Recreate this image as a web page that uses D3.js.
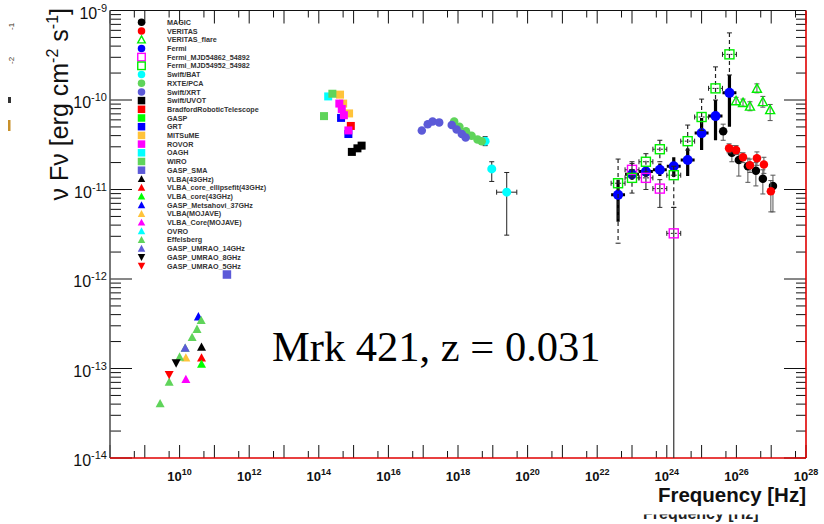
<!DOCTYPE html>
<html>
<head>
<meta charset="utf-8">
<script src="https://cdn.jsdelivr.net/npm/d3@7"></script>
<style>
  body { margin: 0; background: #fff; }
  svg { display: block; }
</style>
</head>
<body>
<svg id="chart" width="824" height="524"></svg>
<script>
// ---- Axis labels (exponents of ten) ----
const xLabelExponents = [10, 12, 14, 16, 18, 20, 22, 24, 26, 28];
const yLabelExponents = [-9, -10, -11, -12, -13, -14];

// ---- Legend entries ----
const legendNames = ["MAGIC", "VERITAS", "VERITAS_flare", "Fermi", "Fermi_MJD54862_54892",
  "Fermi_MJD54952_54982", "Swift/BAT", "RXTE/PCA", "Swift/XRT", "Swift/UVOT",
  "BradfordRoboticTelescope", "GASP", "GRT", "MITSuME", "ROVOR", "OAGH", "WIRO", "GASP_SMA",
  "VLBA(43GHz)", "VLBA_core_ellipsefit(43GHz)", "VLBA_core(43GHz)", "GASP_Metsahovi_37GHz",
  "VLBA(MOJAVE)", "VLBA_Core(MOJAVE)", "OVRO", "Effelsberg", "GASP_UMRAO_14GHz",
  "GASP_UMRAO_8GHz", "GASP_UMRAO_5GHz"];
const legendShapes = ["circle", "circle", "otri", "circle", "osquare", "osquare", "circle", "circle",
  "circle", "square", "square", "square", "square", "square", "square", "square", "square", "square",
  "tri", "tri", "tri", "tri", "tri", "tri", "tri", "tri", "tri", "tridown", "tridown"];
const legendColors = ["#000000", "#ff0000", "#00ee00", "#0000ff", "#ff00ff", "#00ee00", "#00ffff",
  "#5fd45a", "#5c5ad8", "#000000", "#ff0000", "#00ff00", "#0000ff", "#ffc33a", "#ff00ff", "#00ffff",
  "#5fd45a", "#5c5ad8", "#000000", "#ff0000", "#00ff00", "#0000ff", "#ffc33a", "#ff00ff", "#00ffff",
  "#5fd45a", "#5c5ad8", "#000000", "#ff0000"];

// ---- Data: log10(frequency / Hz) and log10(nuFnu / erg cm^-2 s^-1) ----
// Gamma rays
const magicNu   = [25.62, 25.87, 26.07, 26.33, 26.56, 26.76, 27.05];
const magicFlux = [-10.35, -10.59, -10.67, -10.74, -10.79, -10.88, -10.96];
const magicHi   = [0.08, 0.08, 0.08, 0.09, 0.09, 0.10, 0.12];
const magicLo   = [0.10, 0.10, 0.18, 0.18, 0.17, 0.17, 0.29];

const veritasNu   = [25.79, 25.99, 26.19, 26.39, 26.59, 26.79, 26.99];
const veritasFlux = [-10.54, -10.56, -10.64, -10.73, -10.65, -10.72, -11.02];
const veritasHi   = [0.05, 0.05, 0.05, 0.07, 0.07, 0.08, 0.12];
const veritasLo   = [0.05, 0.05, 0.06, 0.08, 0.08, 0.10, 0.23];

const flareNu   = [25.99, 26.19, 26.39, 26.59, 26.76, 26.97];
const flareFlux = [-10.01, -10.03, -10.07, -9.87, -10.02, -10.11];
const flareHi   = [0.04, 0.04, 0.05, 0.05, 0.06, 0.06];
const flareLo   = [0.04, 0.04, 0.05, 0.05, 0.06, 0.12];

const fermiNu   = [22.6, 23.0, 23.4, 23.8, 24.2, 24.6, 25.0, 25.4, 25.8];
const fermiFlux = [-11.06, -10.83, -10.80, -10.78, -10.74, -10.67, -10.37, -10.18, -9.92];
const fermiHi   = [0.17, 0.06, 0.06, 0.07, 0.10, 0.13, 0.17, 0.18, 0.20];
const fermiLo   = [0.30, 0.06, 0.06, 0.07, 0.12, 0.18, 0.19, 0.27, 0.38];

const fermiANu   = [23.0, 23.4, 23.8, 24.2];
const fermiAFlux = [-10.78, -10.87, -10.99, -11.49];
const fermiAHi   = [0.07, 0.07, 0.10, 0.29];
const fermiALo   = [0.07, 0.13, 0.21, 4.0];

const fermiBNu   = [22.6, 23.0, 23.4, 23.8, 24.2, 24.6, 25.0, 25.4, 25.8];
const fermiBFlux = [-10.93, -10.87, -10.69, -10.55, -10.84, -10.46, -10.19, -9.87, -9.49];
const fermiBHi   = [0.27, 0.18, 0.09, 0.10, 0.10, 0.18, 0.20, 0.24, 0.24];
const fermiBLo   = [0.67, 0.17, 0.15, 0.14, 0.36, 0.10, 0.15, 0.13, 0.23];

// X-rays
const batNu   = [18.78, 18.97, 19.40];
const batFlux = [-10.46, -10.77, -11.03];
const batHi   = [0.05, 0.08, 0.22];
const batLo   = [0.05, 0.14, 0.48];
const batNuErr = [0.0, 0.0, 0.29];

const rxteNu   = [17.89, 18.04, 18.23, 18.39, 18.56, 18.68];
const rxteFlux = [-10.24, -10.30, -10.35, -10.40, -10.44, -10.46];

const xrtNu   = [16.96, 17.13, 17.27, 17.46, 17.82, 17.96, 18.11, 18.22];
const xrtFlux = [-10.34, -10.27, -10.24, -10.25, -10.28, -10.33, -10.38, -10.42];

// Optical / UV
const uvotNu   = [14.95, 15.11, 15.23];
const uvotFlux = [-10.58, -10.54, -10.51];
const bradfordNu   = [14.92];
const bradfordFlux = [-10.29];
const grtNu   = [14.64, 14.85];
const grtFlux = [-10.20, -10.38];
const mitsumeNu   = [14.61, 14.70, 14.87];
const mitsumeFlux = [-9.94, -10.04, -10.15];
const rovorNu   = [14.59, 14.66, 14.72, 14.85];
const rovorFlux = [-10.04, -10.10, -10.17, -10.34];
const oaghNu   = [14.27];
const oaghFlux = [-9.96];
const wiroNu   = [14.15, 14.39];
const wiroFlux = [-10.18, -9.93];

// Radio
const smaNu = [11.36];            const smaFlux = [-11.95];
const vlbaNu = [10.63];           const vlbaFlux = [-12.76];
const vlbaEllNu = [10.63];        const vlbaEllFlux = [-12.88];
const vlbaCoreNu = [10.63];       const vlbaCoreFlux = [-12.95];
const metsahoviNu = [10.54];      const metsahoviFlux = [-12.42];
const mojaveNu = [10.18];         const mojaveFlux = [-12.88];
const mojaveCoreNu = [10.18];     const mojaveCoreFlux = [-13.12];
const effelsbergNu   = [9.44, 9.70, 10.0, 10.16, 10.36, 10.50, 10.62];
const effelsbergFlux = [-13.39, -13.15, -12.87, -12.77, -12.65, -12.56, -12.46];
const umrao14Nu = [10.16];        const umrao14Flux = [-12.77];
const umrao8Nu = [9.90];          const umrao8Flux = [-12.94];
const umrao5Nu = [9.70];          const umrao5Flux = [-13.07];

// ---- Scales ----
const P = v => Math.pow(10, v);
const x = d3.scaleLog().domain([1e8, 1e28]).range([110, 806]);
const y = d3.scaleLog().domain([1e-14, 1e-9]).range([458, 10.5]);
const X0 = 110, X1 = 806, Y0 = 458, Y1 = 10.5;

const svg = d3.select("#chart");
const SANS = "'Liberation Sans', Arial, Helvetica, sans-serif";

// ---- Marker drawing ----
function marker(g, shape, cx, cy, size, color) {
  const h = size / 2;
  if (shape === "circle") {
    g.append("circle").attr("cx", cx).attr("cy", cy).attr("r", h).attr("fill", color);
  } else if (shape === "square") {
    g.append("rect").attr("x", cx - h).attr("y", cy - h).attr("width", size).attr("height", size).attr("fill", color);
  } else if (shape === "osquare") {
    g.append("rect").attr("x", cx - h).attr("y", cy - h).attr("width", size).attr("height", size)
      .attr("fill", "none").attr("stroke", color).attr("stroke-width", 1.4);
  } else if (shape === "tri" || shape === "otri") {
    const p = `M${cx},${cy - h}L${cx + h},${cy + h * 0.85}L${cx - h},${cy + h * 0.85}Z`;
    const el = g.append("path").attr("d", p);
    if (shape === "tri") el.attr("fill", color);
    else el.attr("fill", "none").attr("stroke", color).attr("stroke-width", 1.4);
  } else if (shape === "tridown") {
    const p = `M${cx},${cy + h}L${cx + h},${cy - h * 0.85}L${cx - h},${cy - h * 0.85}Z`;
    g.append("path").attr("d", p).attr("fill", color);
  }
}

// ---- Frame, ticks, labels ----
const axes = svg.append("g");
const xDecades = d3.range(8, 29);
const xFives = d3.range(8, 28).map(d => 5 * P(d));
const yDecades = d3.range(-14, -8);
const yMinors = [];
d3.range(-14, -9).forEach(d => { for (let k = 2; k <= 9; k++) yMinors.push(k * P(d)); });

function vTicks(vals, len, yBase, dir) {
  axes.selectAll(null).data(vals).join("line")
    .attr("x1", d => x(d)).attr("x2", d => x(d))
    .attr("y1", yBase).attr("y2", yBase + dir * len)
    .attr("stroke", "#111").attr("stroke-width", 1);
}
function hTicks(vals, len, xBase, dir) {
  axes.selectAll(null).data(vals).join("line")
    .attr("y1", d => y(d)).attr("y2", d => y(d))
    .attr("x1", xBase).attr("x2", xBase + dir * len)
    .attr("stroke", "#111").attr("stroke-width", 1);
}
vTicks(xDecades.map(P), 13, Y0, -1);
vTicks(xFives, 7, Y0, -1);
vTicks(xDecades.map(P), 13, Y1, 1);
vTicks(xFives, 7, Y1, 1);
hTicks(yDecades.map(P), 22, X0, 1);
hTicks(yMinors, 11, X0, 1);
hTicks(yDecades.map(P), 22, X1, -1);
hTicks(yMinors, 10, X1, -1);

axes.append("line").attr("x1", X0).attr("x2", X1).attr("y1", Y1).attr("y2", Y1).attr("stroke", "#111").attr("stroke-width", 1);
axes.append("line").attr("x1", X0).attr("x2", X0).attr("y1", Y1).attr("y2", Y0).attr("stroke", "#555").attr("stroke-width", 1.6);
axes.append("line").attr("x1", X0).attr("x2", X1).attr("y1", Y0).attr("y2", Y0).attr("stroke", "#e00000").attr("stroke-width", 1.6);
axes.append("line").attr("x1", X1).attr("x2", X1).attr("y1", Y1).attr("y2", Y0).attr("stroke", "#e00000").attr("stroke-width", 1.6);

// x tick labels
const xl = axes.selectAll(null).data(xLabelExponents).join("text")
  .attr("x", d => x(P(d))).attr("y", 480.5)
  .attr("text-anchor", "middle").attr("font-family", SANS).attr("font-weight", "bold")
  .attr("font-size", 13).attr("fill", "#111");
xl.append("tspan").text("10");
xl.append("tspan").attr("dy", -6).attr("font-size", 9).text(d => d);

// y tick labels
const yl = axes.selectAll(null).data(yLabelExponents).join("text")
  .attr("x", 107).attr("y", d => y(P(d)) + 8)
  .attr("text-anchor", "end").attr("font-family", SANS)
  .attr("font-size", 16).attr("fill", "#111");
yl.append("tspan").text("10");
yl.append("tspan").attr("dy", -7).attr("font-size", 11).text(d => "-" + Math.abs(d));

// axis titles
axes.append("text").attr("x", 806).attr("y", 502).attr("text-anchor", "end")
  .attr("font-family", SANS).attr("font-weight", "bold").attr("font-size", 20.5).attr("fill", "#111")
  .text("Frequency [Hz]");

const yt = axes.append("text").attr("transform", "translate(68,8) rotate(-90)")
  .attr("text-anchor", "end").attr("font-family", SANS).attr("font-size", 25).attr("fill", "#111");
yt.append("tspan").text("\u03bd F\u03bd [erg cm");
yt.append("tspan").attr("dy", -10).attr("font-size", 16).text("-2");
yt.append("tspan").attr("dy", 10).text(" s");
yt.append("tspan").attr("dy", -10).attr("font-size", 16).text("-1");
yt.append("tspan").attr("dy", 10).text("]");

// fragments of a second set of titles, mostly cut off by the page edges
const ghost = svg.append("g");
ghost.append("text").attr("transform", "translate(14,64) rotate(-90)")
  .attr("font-family", SANS).attr("font-size", 8).attr("fill", "#3a3020").text("-2");
ghost.append("text").attr("transform", "translate(14,30) rotate(-90)")
  .attr("font-family", SANS).attr("font-size", 8).attr("fill", "#3a3020").text("-1");
ghost.append("rect").attr("x", 8).attr("y", 97).attr("width", 3).attr("height", 6).attr("fill", "#333");
ghost.append("rect").attr("x", 8).attr("y", 120).attr("width", 2.5).attr("height", 11).attr("fill", "#c8902a");
svg.append("clipPath").attr("id", "ghostclip").append("rect")
  .attr("x", 600).attr("y", 514.5).attr("width", 224).attr("height", 10);
svg.append("text").attr("clip-path", "url(#ghostclip)")
  .attr("x", 643).attr("y", 518.5).attr("font-family", SANS).attr("font-weight", "bold")
  .attr("font-size", 16).attr("fill", "#222").text("Frequency [Hz]");

// ---- Data layer ----
svg.append("clipPath").attr("id", "plotclip").append("rect")
  .attr("x", X0).attr("y", Y1).attr("width", X1 - X0).attr("height", Y0 - Y1);
const plot = svg.append("g").attr("clip-path", "url(#plotclip)");

function errY(g, nu, f, hi, lo, style) {
  nu.forEach((n, i) => {
    const cx = x(P(n));
    const yt = y(P(f[i] + hi[i])), yb = y(P(f[i] - lo[i]));
    g.append("line").attr("x1", cx).attr("x2", cx).attr("y1", yt).attr("y2", yb)
      .attr("stroke", style.color).attr("stroke-width", style.width)
      .attr("stroke-dasharray", style.dash || null);
    if (style.cap) {
      [yt, yb].forEach(v => g.append("line").attr("x1", cx - style.cap).attr("x2", cx + style.cap)
        .attr("y1", v).attr("y2", v).attr("stroke", style.color).attr("stroke-width", 1));
    }
  });
}
function errX(g, nu, f, dx, style) {
  nu.forEach((n, i) => {
    if (!dx[i]) return;
    const cy = y(P(f[i]));
    const xl = x(P(n - dx[i])), xr = x(P(n + dx[i]));
    g.append("line").attr("x1", xl).attr("x2", xr).attr("y1", cy).attr("y2", cy)
      .attr("stroke", style.color).attr("stroke-width", style.width)
      .attr("stroke-dasharray", style.dash || null);
    if (style.cap) {
      [xl, xr].forEach(v => g.append("line").attr("x1", v).attr("x2", v)
        .attr("y1", cy - style.cap).attr("y2", cy + style.cap).attr("stroke", style.color).attr("stroke-width", 1));
    }
  });
}
function points(g, idx, nu, f, size) {
  nu.forEach((n, i) => marker(g, legendShapes[idx], x(P(n)), y(P(f[i])), size, legendColors[idx]));
}
const fill = (n, v) => n.map(() => v);

const thin = { color: "#555", width: 1, cap: 2.5 };

// MAGIC
errY(plot, magicNu, magicFlux, magicHi, magicLo, thin);
points(plot, 0, magicNu, magicFlux, 8.5);
// VERITAS
errY(plot, veritasNu, veritasFlux, veritasHi, veritasLo, thin);
points(plot, 1, veritasNu, veritasFlux, 8.5);
// VERITAS flare
errY(plot, flareNu, flareFlux, flareHi, flareLo, thin);
points(plot, 2, flareNu, flareFlux, 9);
// Fermi
errX(plot, fermiNu, fermiFlux, fill(fermiNu, 0.2), { color: "#000", width: 3 });
errY(plot, fermiNu, fermiFlux, fermiHi, fermiLo, { color: "#000", width: 3.2 });
points(plot, 3, fermiNu, fermiFlux, 10);
// Fermi MJD 54862-54892
errX(plot, fermiANu, fermiAFlux, fill(fermiANu, 0.2), { color: "#222", width: 1, dash: "2,2", cap: 2.5 });
errY(plot, fermiANu, fermiAFlux, fermiAHi, fermiALo, { color: "#333", width: 1.2, cap: 2.5 });
points(plot, 4, fermiANu, fermiAFlux, 9);
// Fermi MJD 54952-54982
errX(plot, fermiBNu, fermiBFlux, fill(fermiBNu, 0.2), { color: "#222", width: 1, dash: "2,2", cap: 2.5 });
errY(plot, fermiBNu, fermiBFlux, fermiBHi, fermiBLo, { color: "#222", width: 1.2, dash: "4,3", cap: 2.5 });
points(plot, 5, fermiBNu, fermiBFlux, 9);
// Swift/BAT
errX(plot, batNu, batFlux, batNuErr, { color: "#222", width: 1, cap: 2.5 });
errY(plot, batNu, batFlux, batHi, batLo, { color: "#222", width: 1, cap: 2.5 });
points(plot, 6, batNu, batFlux, 9);
// RXTE/PCA, Swift/XRT
points(plot, 7, rxteNu, rxteFlux, 8.5);
points(plot, 8, xrtNu, xrtFlux, 8.5);
// Optical / UV
points(plot, 9, uvotNu, uvotFlux, 8);
points(plot, 10, bradfordNu, bradfordFlux, 8);
points(plot, 12, grtNu, grtFlux, 8);
points(plot, 13, mitsumeNu, mitsumeFlux, 8);
points(plot, 14, rovorNu, rovorFlux, 8);
points(plot, 15, oaghNu, oaghFlux, 8);
points(plot, 16, wiroNu, wiroFlux, 8);
// Radio
points(plot, 17, smaNu, smaFlux, 8.5);
points(plot, 18, vlbaNu, vlbaFlux, 9);
points(plot, 19, vlbaEllNu, vlbaEllFlux, 9);
points(plot, 20, vlbaCoreNu, vlbaCoreFlux, 9);
points(plot, 21, metsahoviNu, metsahoviFlux, 9);
points(plot, 22, mojaveNu, mojaveFlux, 9);
points(plot, 23, mojaveCoreNu, mojaveCoreFlux, 9);
points(plot, 25, effelsbergNu, effelsbergFlux, 9);
points(plot, 26, umrao14Nu, umrao14Flux, 9);
points(plot, 27, umrao8Nu, umrao8Flux, 9);
points(plot, 28, umrao5Nu, umrao5Flux, 9);

// ---- Legend ----
const leg = svg.append("g");
legendNames.forEach((name, i) => {
  const ry = 22.3 + i * 8.7;
  marker(leg, legendShapes[i], 141.5, ry, 7.5, legendColors[i]);
  leg.append("text").attr("x", 167).attr("y", ry + 2.6)
    .attr("font-family", SANS).attr("font-weight", "bold").attr("font-size", 7.2)
    .attr("fill", "#333").text(name);
});

// ---- Source annotation ----
svg.append("text").attr("x", 272).attr("y", 361)
  .attr("font-family", "'Liberation Serif', 'Times New Roman', serif").attr("font-size", 42.5)
  .attr("fill", "#000").text("Mrk 421, z = 0.031");
</script>
</body>
</html>
